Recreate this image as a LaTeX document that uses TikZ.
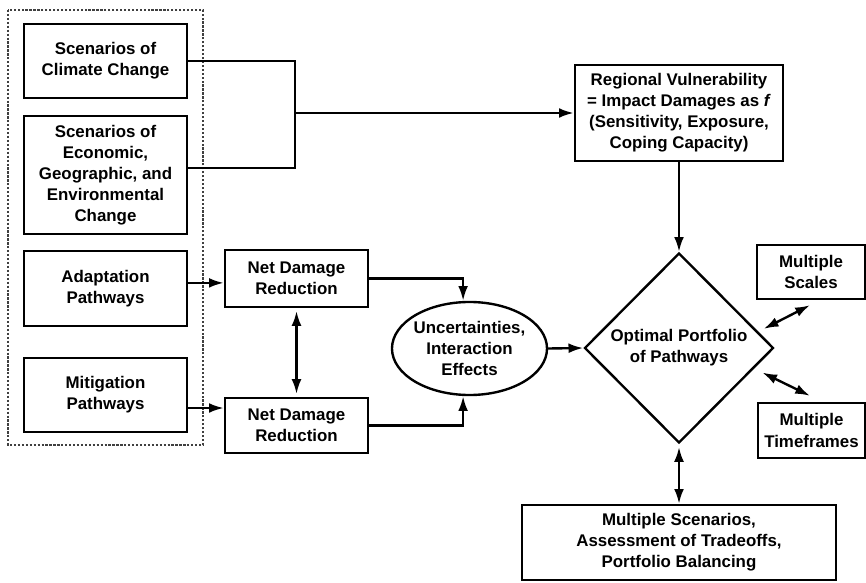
\documentclass[tikz,border=0pt]{standalone}
\usepackage{fontspec}
\setmainfont{Liberation Sans}
\usetikzlibrary{arrows.meta,positioning,shapes.geometric}

\begin{document}
\begin{tikzpicture}[x=0.025cm, y=-0.025cm,
  box/.style={draw, line width=1.7pt, align=center, inner sep=1pt,
              font=\fontsize{12}{15}\selectfont\bfseries},
  arr/.style={-{Latex[length=10.5pt,width=7pt]}, line width=1.7pt},
  dbl/.style={{Latex[length=10.5pt,width=7pt]}-{Latex[length=10.5pt,width=7pt]}, line width=1.7pt},
  link/.style={line width=1.7pt},
  group/.style={draw=black!75, line width=0.8pt, dash pattern=on 1.6pt off 1.2pt}
]
\useasboundingbox (0,0) rectangle (866,583);
\draw[group] (8,10) rectangle (203,445);
\node[box, minimum width=4.075cm, minimum height=1.85cm] (clim) at (105.5,61) {Scenarios of\\Climate Change};
\node[box, minimum width=4.075cm, minimum height=2.95cm] (econ) at (105.5,175) {Scenarios of\\Economic,\\Geographic, and\\Environmental\\Change};
\node[box, minimum width=4.075cm, minimum height=1.875cm] (adapt) at (105.5,288.5) {Adaptation\\Pathways};
\node[box, minimum width=4.075cm, minimum height=1.85cm] (mitig) at (105.5,395) {Mitigation\\Pathways};
\node[box, minimum width=3.575cm, minimum height=1.425cm] (nd1) at (296.5,278.5) {Net Damage\\Reduction};
\node[box, minimum width=3.575cm, minimum height=1.375cm] (nd2) at (296.5,425.5) {Net Damage\\Reduction};
\node[box, minimum width=5.2cm, minimum height=2.4cm] (region) at (679,113) {Regional Vulnerability\\= Impact Damages as \textit{f}\\(Sensitivity, Exposure,\\Coping Capacity)};
\node[box, ellipse, inner xsep=-1pt, inner ysep=0pt, minimum width=3.875cm, minimum height=2.325cm] (unc) at (469.5,348.5) {Uncertainties,\\Interaction\\Effects};
\node[box, diamond, inner sep=0pt, minimum width=4.725cm, minimum height=4.75cm] (opt) at (679,348) {Optimal Portfolio\\of Pathways};
\node[box, minimum width=2.7cm, minimum height=1.35cm] (scales) at (811,272) {Multiple\\Scales};
\node[box, minimum width=2.675cm, minimum height=1.375cm] (time) at (811.5,430.5) {Multiple\\Timeframes};
\node[box, minimum width=7.85cm, minimum height=1.875cm] (multi) at (679,542.5) {Multiple Scenarios,\\Assessment of Tradeoffs,\\Portfolio Balancing};
\coordinate (join) at (295,113);
\draw[link] (clim.east) -| (join);
\draw[link] ([yshift=0.175cm]econ.east) -| (join);
\draw[arr] (join) -- (region.west);
\draw[arr] ([yshift=0.14cm]adapt.east) -- ([yshift=0.14cm]adapt.east -| nd1.west);
\draw[arr] ([yshift=-0.325cm]mitig.east) -- ([yshift=-0.325cm]mitig.east -| nd2.west);
\draw[dbl, shorten <=2pt, shorten >=2pt] (nd1) -- (nd2);
\draw[arr] (nd1.east) -| ([xshift=-0.16cm]unc.north);
\draw[arr] (nd2.east) -| ([xshift=-0.16cm]unc.south);
\draw[arr] (unc.east) -- (opt.west);
\draw[arr] (region) -- (opt);
\draw[dbl, shorten <=2pt] (opt) -- (multi);
\draw[dbl] ([shift={(8,0)}]opt.14) -- ([shift={(-1,5)}]scales.south);
\draw[dbl] ([shift={(12,0)}]opt.-19) -- ([shift={(-1.5,-6)}]time.north);
\end{tikzpicture}
\end{document}
